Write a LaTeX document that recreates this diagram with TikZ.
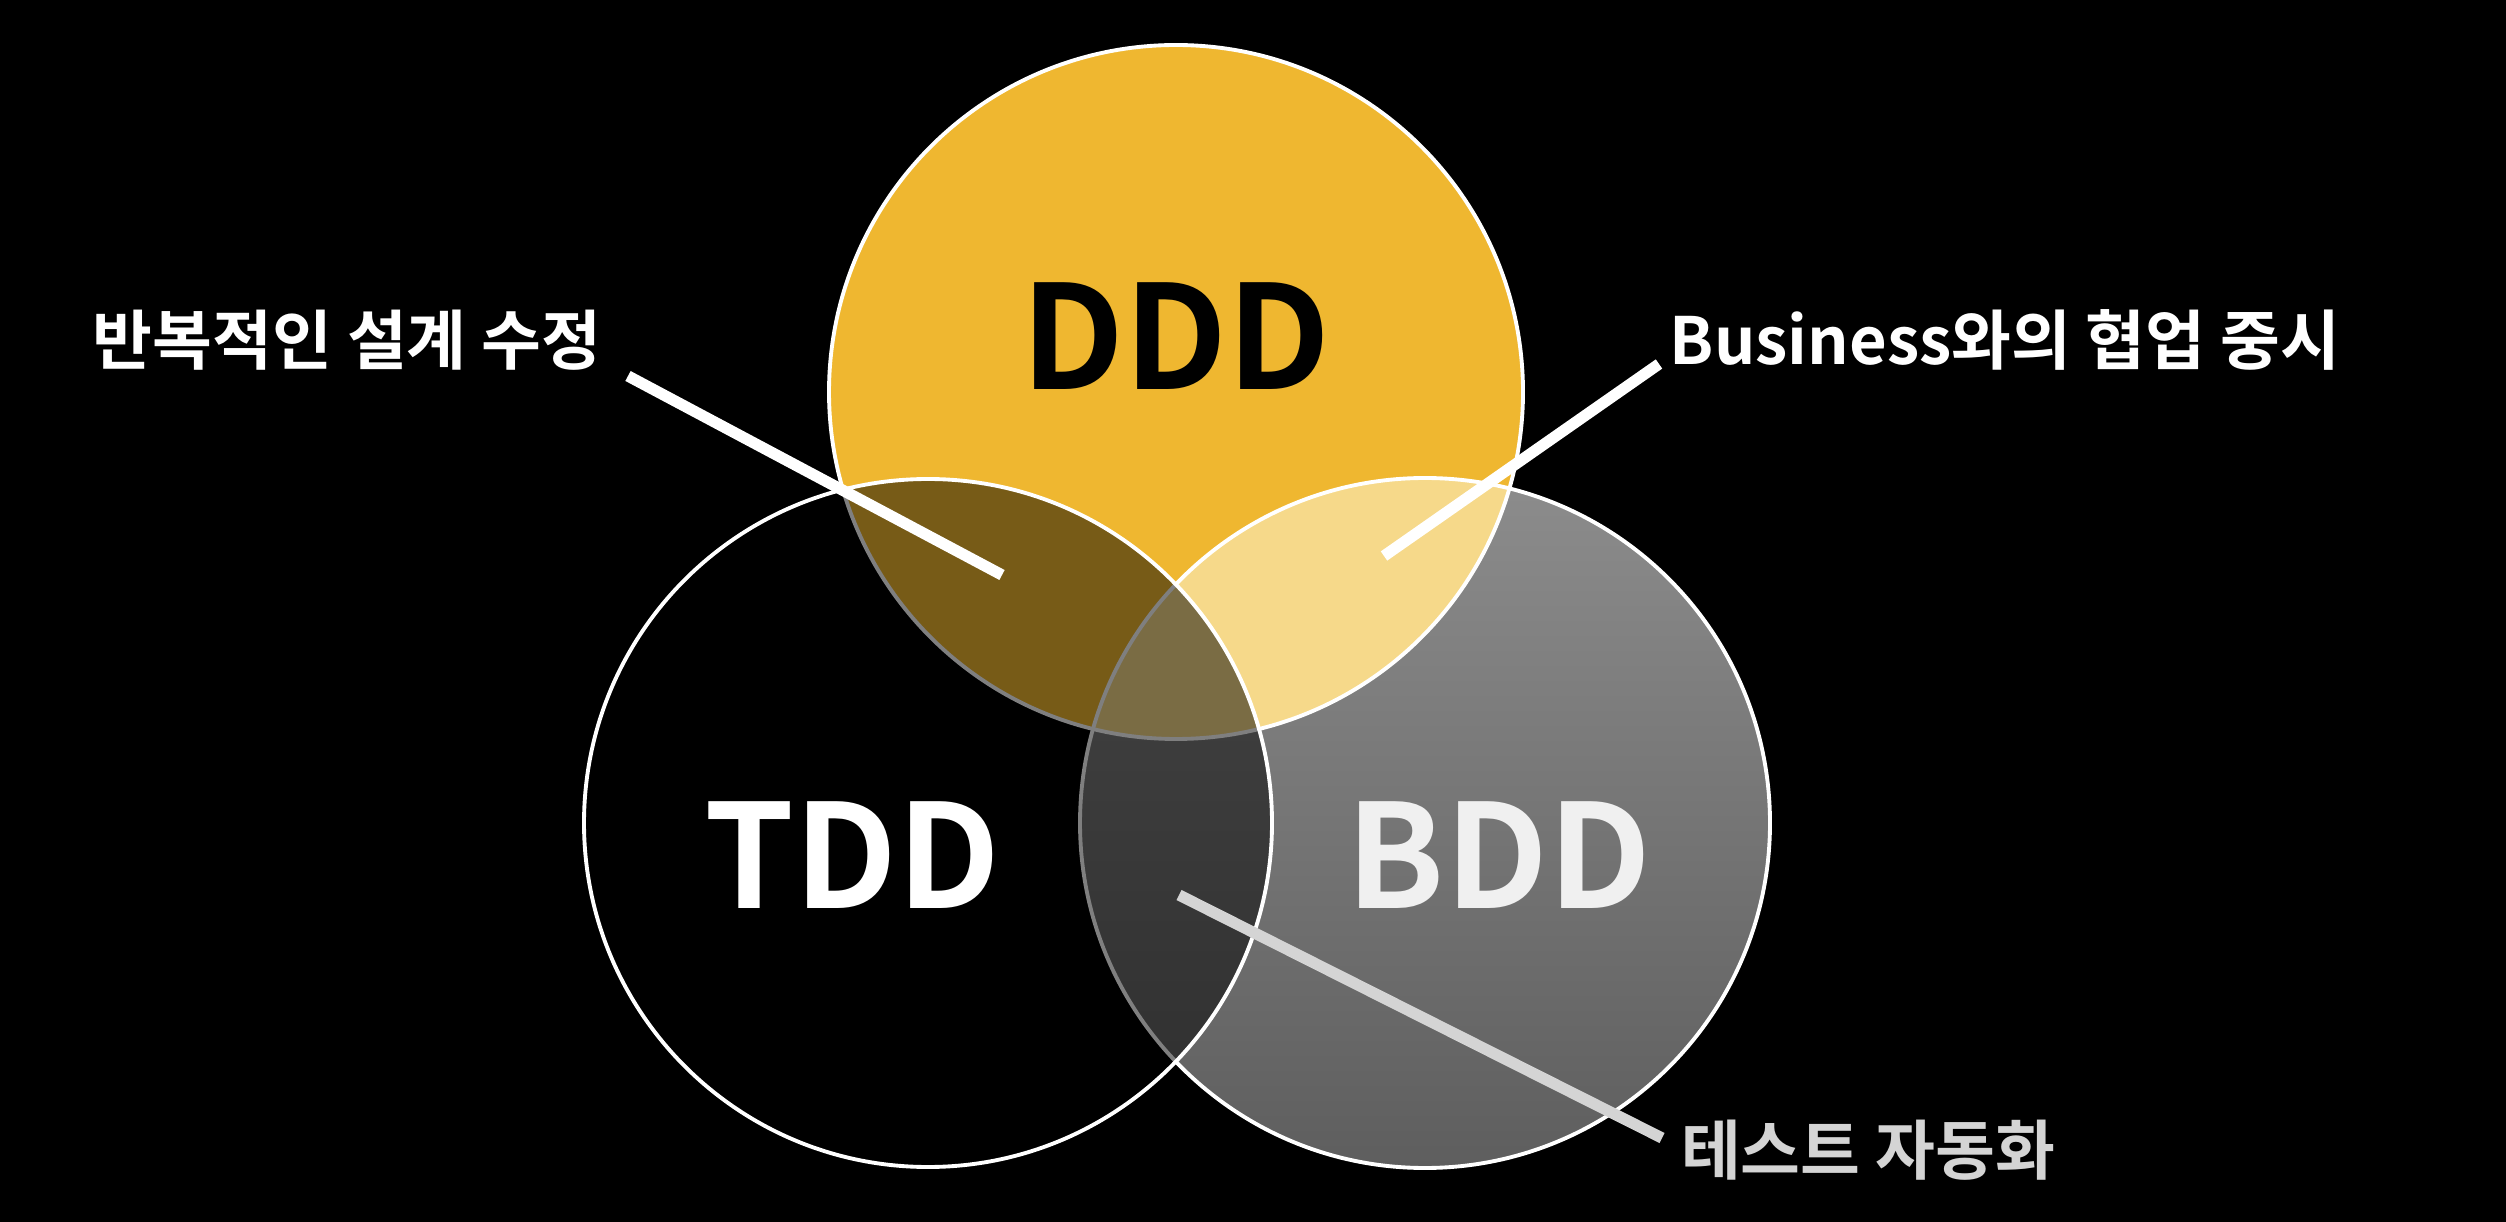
\documentclass[tikz,border=0pt]{standalone}
\usepackage{fontspec}
\setmainfont{Noto Sans CJK KR}[BoldFont={Noto Sans CJK KR Bold}]
\usepackage{tikz}
\usetikzlibrary{positioning,calc}
\definecolor{dddfill}{HTML}{EFB730}
\definecolor{dddbdd}{HTML}{F6D98A}
\definecolor{bddtop}{HTML}{8C8C8C}
\definecolor{bddbot}{HTML}{5E5E5E}
\definecolor{autogray}{HTML}{D4D4D4}

\begin{document}
\begin{tikzpicture}[x=0.01cm, y=-0.01cm,
    ring/.style={draw=white, line width=1.1pt},
    callout/.style={line width=3.2pt, white},
    caption/.style={font=\bfseries\fontsize{18.5}{22}\selectfont, text=white, inner sep=0pt},
    big/.style={font=\bfseries\fontsize{41}{48}\selectfont, inner sep=0pt}]
    \fill [black] (0,0) rectangle (2506,1222);
    \useasboundingbox (0,0) rectangle (2506,1222);

    \coordinate (dddc) at (1176,392);
    \coordinate (tddc) at (928,823);
    \coordinate (bddc) at (1425,823);

    % circles
    \fill [dddfill] (dddc) circle [radius=347];
    \shade [top color=bddtop, bottom color=bddbot] (bddc) circle [radius=345];
    \begin{scope}
        \clip (dddc) circle [radius=347];
        \fill [dddbdd] (bddc) circle [radius=345];
    \end{scope}
    \draw [ring] (dddc) circle [radius=347];
    \draw [ring] (bddc) circle [radius=345];
    \fill [black, opacity=0.5] (tddc) circle [radius=344];
    \draw [ring] (tddc) circle [radius=344];

    \node [big, text=black] (ddd) at (1176,336) {DDD};
    \node [big, text=white] (tdd) at (852,855) {TDD};
    \node [big, text=white!94!black] (bdd) at (1499,855) {BDD};

    % labels
    \node [caption] (rep) at (347,340) {반복적인 설계 수정};
    \node [caption] (biz) at (2005,340) {Business와의 협업 중시};
    \node [caption, text=autogray] (auto) at (1868,1150) {테스트 자동화};

    \coordinate (repfrom) at (628,376);
    \coordinate (repto) at (1002,575);
    \coordinate (bizfrom) at (1659,364);
    \coordinate (bizto) at (1384,556);
    \coordinate (autofrom) at (1179,895);
    \coordinate (autoto) at (1662,1138);

    \draw [callout] (repfrom) -- (repto);
    \draw [callout] (bizfrom) -- (bizto);
    \draw [callout, autogray] (autofrom) -- (autoto);
\end{tikzpicture}
\end{document}
